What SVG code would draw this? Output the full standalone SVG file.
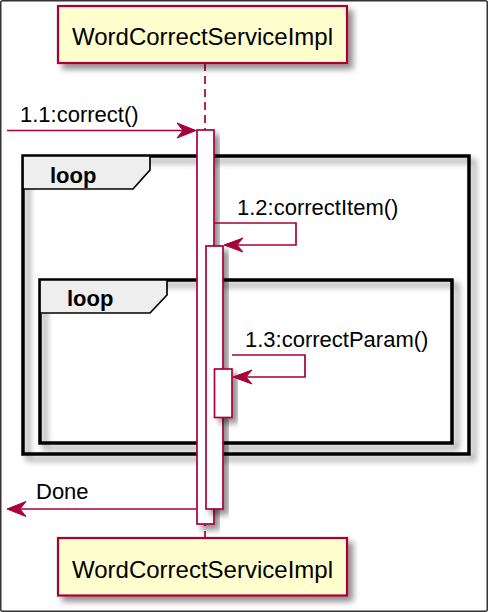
<svg xmlns="http://www.w3.org/2000/svg" width="488" height="612" viewBox="0 0 488 612">
<defs>
<filter id="sh" x="-20%" y="-20%" width="150%" height="150%">
<feGaussianBlur in="SourceAlpha" stdDeviation="3"/>
<feOffset dx="5" dy="5" result="b"/>
<feComponentTransfer><feFuncA type="linear" slope="0.45"/></feComponentTransfer>
<feMerge><feMergeNode/><feMergeNode in="SourceGraphic"/></feMerge>
</filter>
</defs>
<style>
.part{fill:#FEFECE;stroke:#A80036;stroke-width:2.2}
.act{fill:#FFFFFF;stroke:#A80036;stroke-width:1.7}
.msg{fill:none;stroke:#A80036;stroke-width:1.7}
.head{fill:#A80036;stroke:#A80036;stroke-width:1}
.frame{fill:none;stroke:#000000;stroke-width:3.5}
.tab{fill:#EEEEEE;stroke:#000000;stroke-width:1.7}
.pt{font-family:"Liberation Sans",Arial,sans-serif;font-size:24px;fill:#000}
.mt{font-family:"Liberation Sans",Arial,sans-serif;font-size:22px;fill:#000}
.lt{font-family:"Liberation Sans",Arial,sans-serif;font-size:22px;font-weight:bold;fill:#000}
</style>
<rect x="0.75" y="0.75" width="486.5" height="610.5" rx="2" fill="#FFFFFF" stroke="#333333" stroke-width="1.5"/>
<g id="lifeline">
<line x1="205" y1="63" x2="205" y2="537" stroke="#A80036" stroke-width="1.7" stroke-dasharray="8,5"/>
</g>
<g id="loop1">
<rect class="frame" x="23" y="156" width="446" height="298" filter="url(#sh)"/>
<path class="tab" d="M23,156 L150,156 L150,170 L133,189 L23,189 Z"/>
<text class="lt" x="50" y="183">loop</text>
</g>
<g id="loop2">
<rect class="frame" x="40" y="280" width="412" height="163" filter="url(#sh)"/>
<path class="tab" d="M40,280 L167,280 L167,295 L150,313 L40,313 Z"/>
<text class="lt" x="67" y="306">loop</text>
</g>
<g id="activation1">
<rect class="act" x="197" y="130" width="17" height="394" filter="url(#sh)"/>
</g>
<g id="activation2">
<rect class="act" x="206" y="246" width="17" height="263" filter="url(#sh)"/>
</g>
<g id="activation3">
<rect class="act" x="214.5" y="369" width="17.5" height="48.5" filter="url(#sh)"/>
</g>
<g id="connectors">
<line class="msg" x1="7" y1="130.5" x2="194" y2="130.5"/>
<polygon class="head" points="196,130.5 177,123 183,130.5 177,138"/>
<text class="mt" x="20" y="122">1.1:correct()</text>
<polyline class="msg" points="214,223 296,223 296,245 226,245"/>
<polygon class="head" points="224,245 243,238 237,245 243,252"/>
<text class="mt" x="237" y="215">1.2:correctItem()</text>
<polyline class="msg" points="232,355 305,355 305,377 235,377"/>
<polygon class="head" points="233,377 252,370 246,377 252,384"/>
<text class="mt" x="245" y="347">1.3:correctParam()</text>
<line class="msg" x1="196" y1="509" x2="9" y2="509"/>
<polygon class="head" points="7,509 26,501.5 20,509 26,516.5"/>
<text class="mt" x="36" y="499">Done</text>
</g>
<g id="participant-top">
<rect class="part" x="58" y="6" width="289" height="57" filter="url(#sh)"/>
<text class="pt" x="202.5" y="45" text-anchor="middle">WordCorrectServiceImpl</text>
</g>
<g id="participant-bottom">
<rect class="part" x="58" y="538" width="289" height="57.5" filter="url(#sh)"/>
<text class="pt" x="202.5" y="578" text-anchor="middle">WordCorrectServiceImpl</text>
</g>
</svg>
